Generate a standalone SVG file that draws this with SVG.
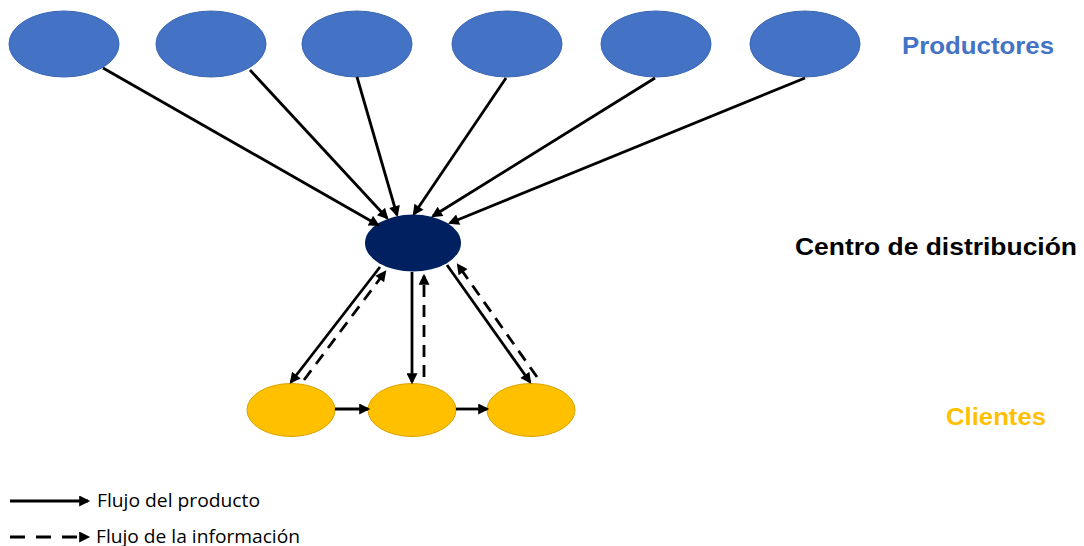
<svg xmlns="http://www.w3.org/2000/svg" width="1084" height="546" viewBox="0 0 1084 546">
<style>
.prod{fill:#4472C4;stroke:#3A65B3;stroke-width:1}
.cli{fill:#FFC000;stroke:#D9A300;stroke-width:1}
.cd{fill:#002060}
.c{stroke:#000;stroke-width:2.8;fill:none;marker-end:url(#ah)}
.d{stroke-dasharray:12,8}
.dl{stroke-dasharray:15,11;stroke-width:3.2}
.lbl{font-family:"Liberation Sans",Arial,sans-serif;font-weight:bold;font-size:23px}
.leg{font-family:"Open Sans","Liberation Sans",sans-serif;font-size:18.5px;fill:#000}
</style>
<defs>
<marker id="ah" viewBox="0 0 10 10" refX="8" refY="5" markerWidth="13" markerHeight="11" markerUnits="userSpaceOnUse" orient="auto">
<path d="M0,0 L10,5 L0,10 z" fill="#000"/>
</marker>
</defs>
<rect width="1084" height="546" fill="#fff"/>
<g id="productores">
<ellipse id="p1" class="prod" cx="64" cy="44" rx="55" ry="33"/>
<ellipse id="p2" class="prod" cx="211" cy="44" rx="55" ry="33"/>
<ellipse id="p3" class="prod" cx="357" cy="44" rx="55" ry="33"/>
<ellipse id="p4" class="prod" cx="507" cy="44" rx="55" ry="33"/>
<ellipse id="p5" class="prod" cx="656" cy="44" rx="55" ry="33"/>
<ellipse id="p6" class="prod" cx="805" cy="44" rx="55" ry="33"/>
</g>
<g id="centro"><ellipse class="cd" cx="413" cy="243" rx="48" ry="28.5"/></g>
<g id="clientes">
<ellipse id="c1" class="cli" cx="291" cy="410" rx="44" ry="26.5"/>
<ellipse id="c2" class="cli" cx="412" cy="410" rx="44" ry="26.5"/>
<ellipse id="c3" class="cli" cx="531" cy="410" rx="44" ry="26.5"/>
</g>
<g id="connectors">
<line class="c" x1="103" y1="68" x2="378" y2="225"/>
<line class="c" x1="250" y1="70" x2="387" y2="218"/>
<line class="c" x1="357" y1="77" x2="397" y2="215"/>
<line class="c" x1="506" y1="78" x2="414" y2="214"/>
<line class="c" x1="655" y1="78" x2="433" y2="216"/>
<line class="c" x1="805" y1="78" x2="450" y2="223"/>
<line class="c" x1="380" y1="267" x2="291" y2="382"/>
<line class="c d" x1="304" y1="380" x2="385" y2="272"/>
<line class="c" x1="412" y1="272" x2="412" y2="382"/>
<line class="c d" x1="424" y1="377" x2="424" y2="276"/>
<line class="c" x1="447" y1="265" x2="530" y2="382"/>
<line class="c d" x1="537" y1="377" x2="458" y2="265"/>
<line class="c" x1="335" y1="409" x2="368" y2="409"/>
<line class="c" x1="456" y1="409" x2="487" y2="409"/>
</g>
<g id="etiquetas">
<text class="lbl" x="902" y="54" fill="#4472C4" textLength="152" lengthAdjust="spacingAndGlyphs">Productores</text>
<text class="lbl" x="795" y="255" fill="#000" textLength="282" lengthAdjust="spacingAndGlyphs">Centro de distribución</text>
<text class="lbl" x="946" y="425" fill="#FFC000" textLength="100" lengthAdjust="spacingAndGlyphs">Clientes</text>
</g>
<g id="leyenda">
<line class="c" x1="10" y1="501" x2="88" y2="501" stroke-width="3.2"/>
<line class="c dl" x1="10" y1="537" x2="88" y2="537"/>
<text class="leg" x="97" y="507" textLength="163" lengthAdjust="spacingAndGlyphs">Flujo del producto</text>
<text class="leg" x="96" y="543" textLength="204" lengthAdjust="spacingAndGlyphs">Flujo de la información</text>
</g>
</svg>
